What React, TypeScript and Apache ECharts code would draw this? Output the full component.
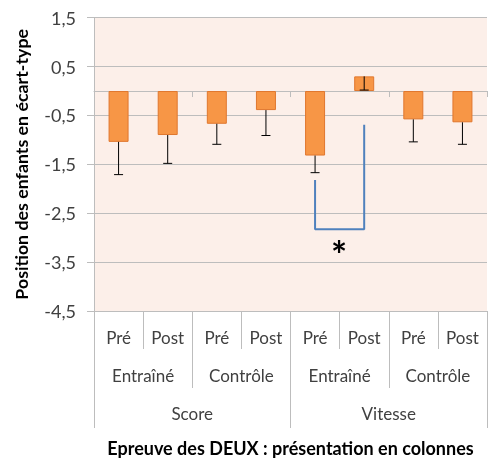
import React, { useEffect, useRef } from "react";
import * as echarts from "echarts";

const groups = ["Score", "Vitesse"];
const subgroups = ["Entraîné", "Contrôle", "Entraîné", "Contrôle"];
const phases = ["Pré", "Post", "Pré", "Post", "Pré", "Post", "Pré", "Post"];
const barKeys = ["S-E-Pré", "S-E-Post", "S-C-Pré", "S-C-Post", "V-E-Pré", "V-E-Post", "V-C-Pré", "V-C-Post"];
const means = [-1.04, -0.9, -0.67, -0.39, -1.32, 0.3, -0.58, -0.64];
const errors = [0.67, 0.58, 0.42, 0.52, 0.35, 0.28, 0.46, 0.45];
const bracketX = [4, 4, 5, 5];
const bracketY = [-1.82, -2.83, -2.83, -0.69];

const FONT = "Lato, 'Open Sans', sans-serif";

export default function App() {
  const ref = useRef<HTMLDivElement>(null);
  useEffect(() => {
    if (!ref.current) return;
    const chart = echarts.init(ref.current, null, { renderer: "svg" });
    const gridCol = "#BDBDBD";
    const labelAxis = (data: string[], len: number, margin: number, extra: any = {}) => ({
      type: "category",
      data,
      position: "bottom",
      gridIndex: 0,
      boundaryGap: true,
      axisLine: { show: false, onZero: false },
      axisTick: { show: true, length: len, alignWithLabel: false, lineStyle: { color: gridCol } },
      axisLabel: { margin, fontSize: 17, color: "#404040", fontFamily: FONT, interval: 0 },
      splitLine: { show: false },
      ...extra,
    });
    chart.setOption({
      animation: false,
      grid: {
        left: 94,
        right: 14,
        top: 17.7,
        bottom: 148.7,
        show: true,
        backgroundColor: "#FCEFE9",
        borderWidth: 0,
      },
      xAxis: [
        {
          type: "category",
          data: barKeys,
          position: "bottom",
          axisLine: { show: true, onZero: true, lineStyle: { color: gridCol } },
          axisTick: { show: true, length: 6, lineStyle: { color: gridCol } },
          axisLabel: { show: false },
          splitLine: { show: false },
        },
        labelAxis(phases, 38, 18),
        labelAxis(subgroups, 77, 56),
        labelAxis(groups, 117, 94, {
          name: "Epreuve des DEUX : présentation en colonnes",
          nameLocation: "middle",
          nameGap: 128,
          nameTextStyle: { fontSize: 18, fontWeight: "bold", color: "#000", fontFamily: FONT },
        }),
      ],
      yAxis: {
        type: "value",
        min: -4.5,
        max: 1.5,
        interval: 1,
        name: "Position des enfants en écart-type",
        nameLocation: "middle",
        nameGap: 64,
        nameRotate: 90,
        nameTextStyle: { fontSize: 17.8, fontWeight: "bold", color: "#000", fontFamily: FONT },
        axisLine: { show: true, lineStyle: { color: gridCol } },
        axisTick: { show: true, length: 7, lineStyle: { color: gridCol } },
        axisLabel: {
          margin: 18,
          fontSize: 18,
          color: "#404040",
          fontFamily: FONT,
          formatter: (v: number) => v.toFixed(1).replace(".", ","),
        },
        splitLine: { show: true, lineStyle: { color: gridCol, width: 1 } },
      },
      series: [
        {
          type: "bar",
          data: means,
          barWidth: 20,
          itemStyle: { color: "#F79646", borderColor: "#E0772E", borderWidth: 1 },
        },
        {
          type: "custom",
          data: means.map((m, i) => [i, m, m - errors[i]]),
          renderItem: (params: any, api: any) => {
            const x = api.value(0);
            const top = api.coord([x, api.value(1)]);
            const bot = api.coord([x, api.value(2)]);
            const hw = 4.5;
            return {
              type: "group",
              children: [
                { type: "line", shape: { x1: top[0], y1: top[1], x2: bot[0], y2: bot[1] }, style: { stroke: "#000", lineWidth: 1 } },
                { type: "line", shape: { x1: bot[0] - hw, y1: bot[1], x2: bot[0] + hw, y2: bot[1] }, style: { stroke: "#000", lineWidth: 1 } },
              ],
            };
          },
          z: 5,
        },
        {
          type: "line",
          data: bracketX.map((x, i) => [x, bracketY[i]]),
          symbol: "none",
          lineStyle: { color: "#4F81BD", width: 2 },
          z: 6,
        },
      ],
      graphic: [
        {
          type: "text",
          x: 339,
          y: 254,
          style: {
            text: "*",
            font: "bold 38px " + FONT,
            fill: "#000",
            align: "center",
            verticalAlign: "middle",
          },
        },
      ],
    });
    return () => chart.dispose();
  }, []);
  return (
    <div
      ref={ref}
      style={{ position: "fixed", left: 0, top: 0, width: 501, height: 462 }}
    />
  );
}
